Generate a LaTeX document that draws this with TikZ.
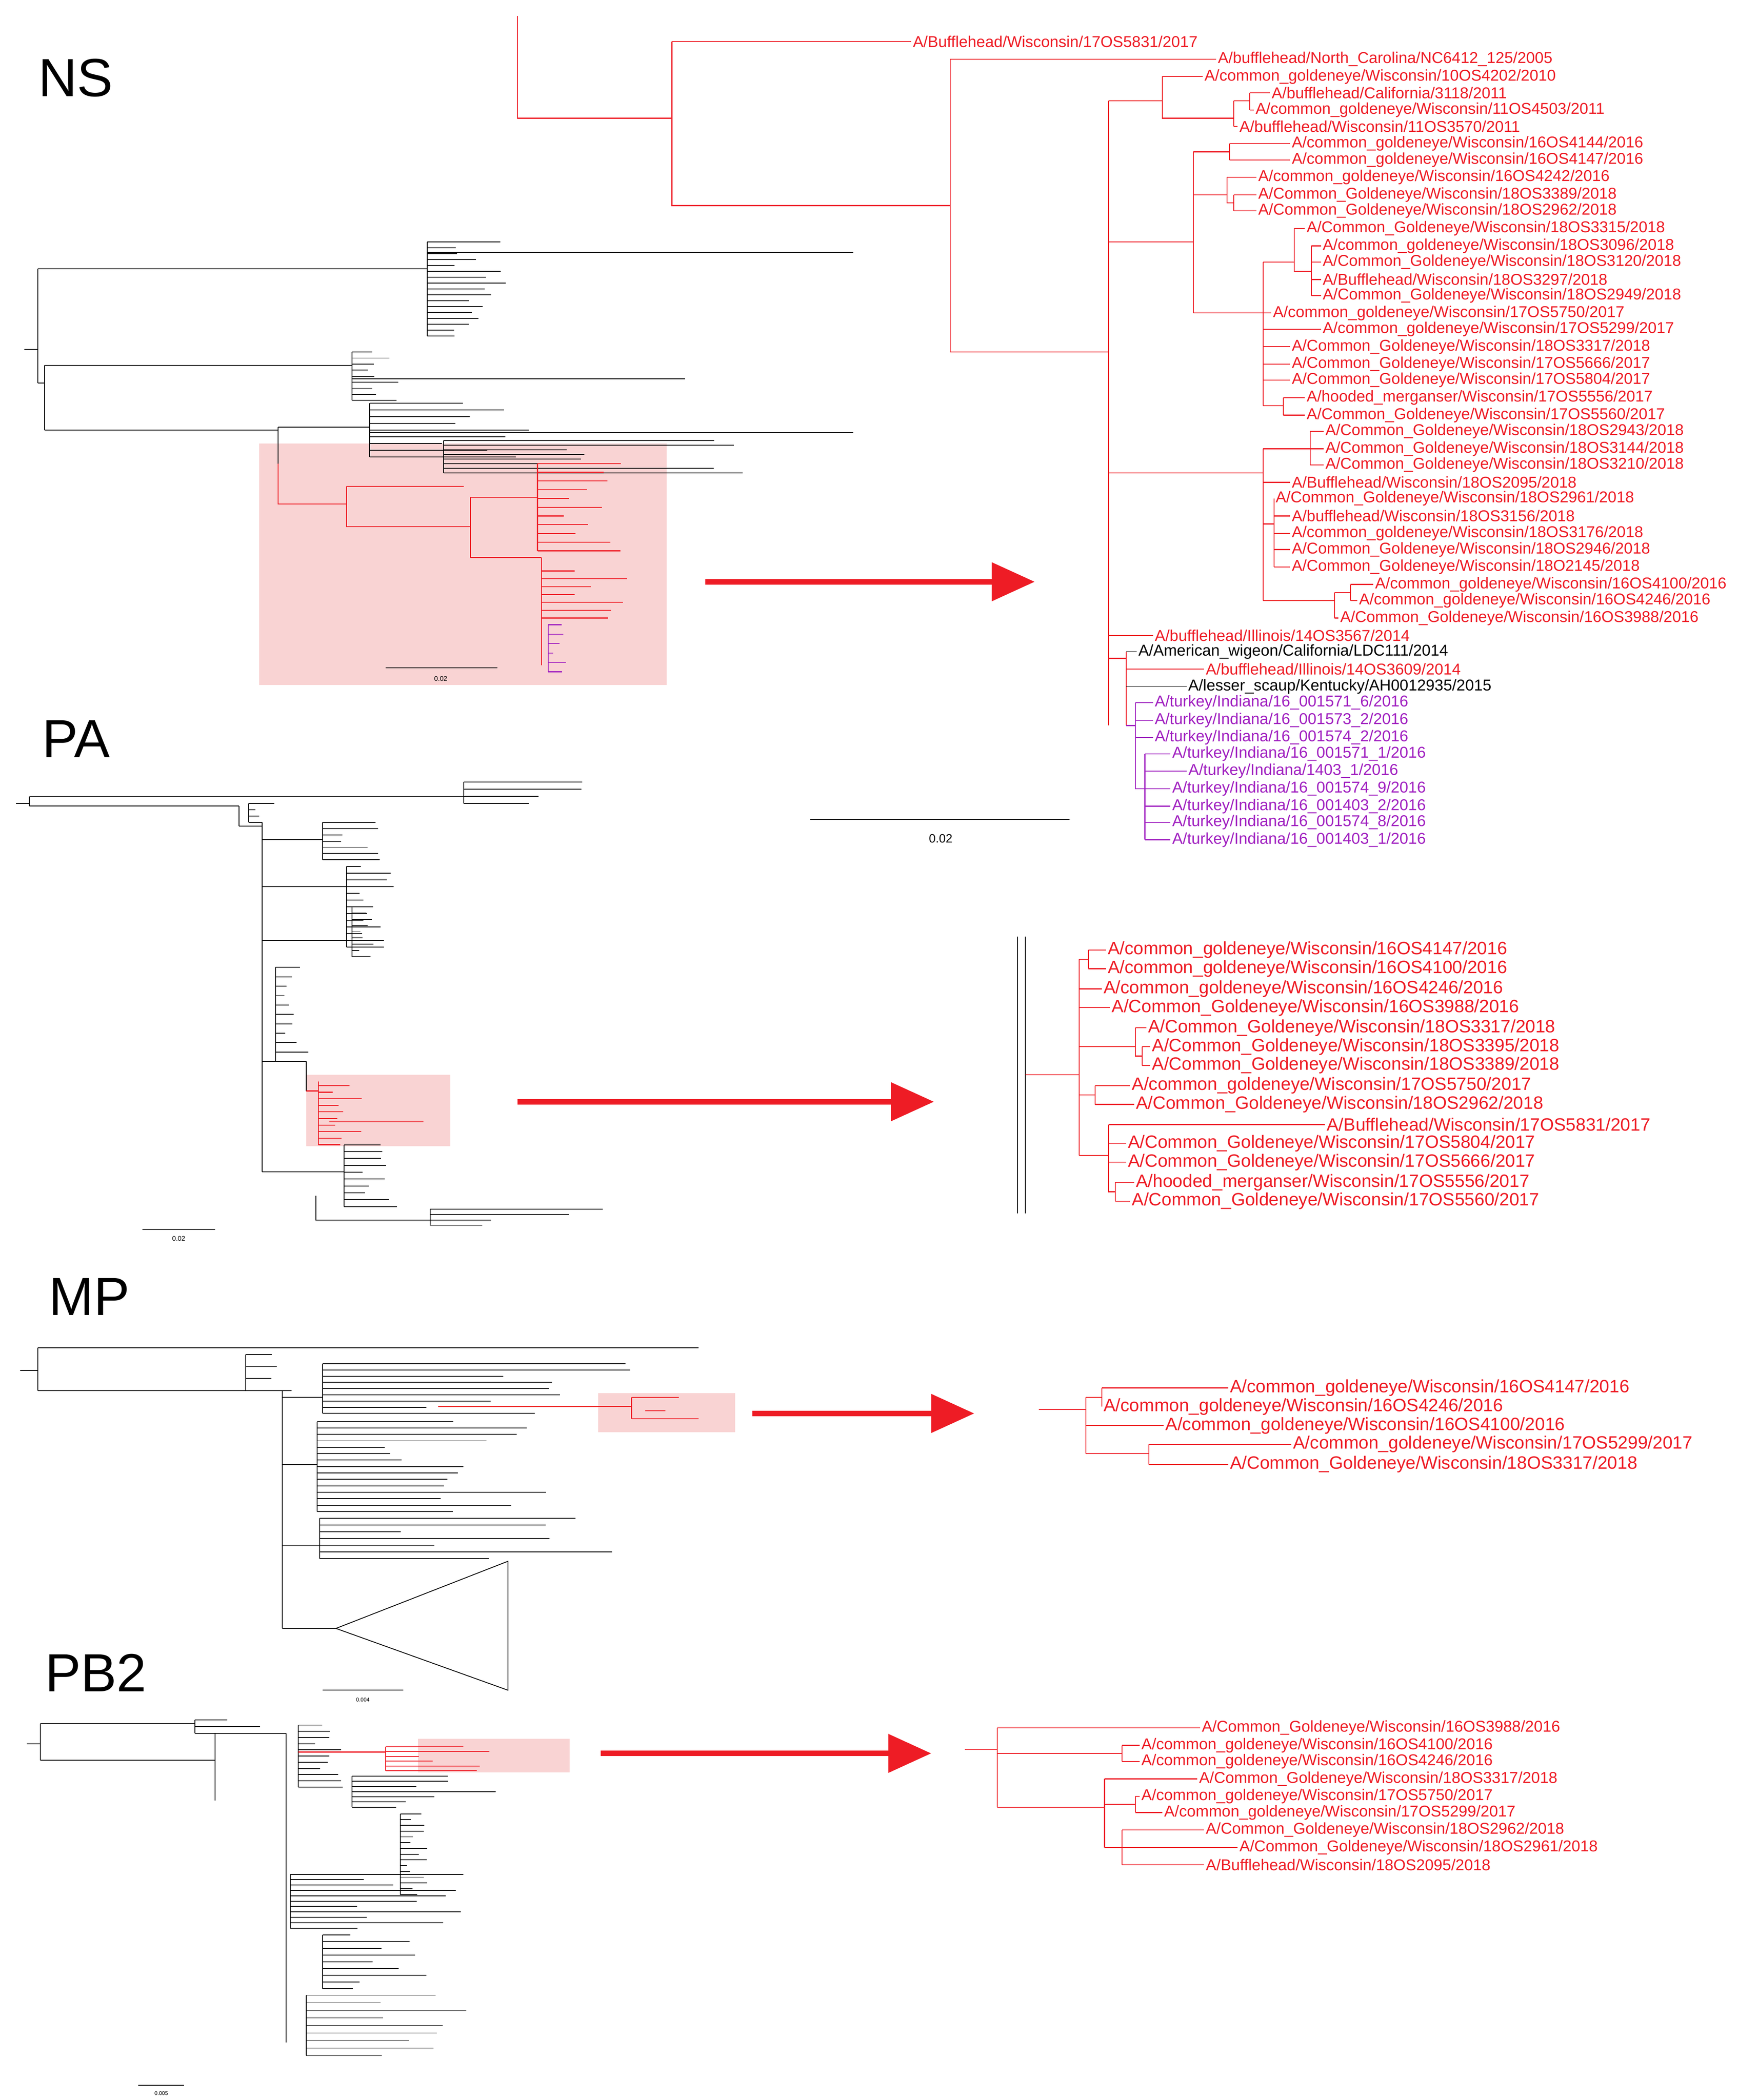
\documentclass[tikz,border=0pt]{standalone}
\usepackage{fontspec}
\setmainfont{Liberation Sans}
\usetikzlibrary{arrows.meta}
\definecolor{rd}{HTML}{EE1C25}
\definecolor{pu}{HTML}{A020C0}
\definecolor{pk}{HTML}{F9D3D3}
\tikzset{rd/.style={draw=rd,line width=0.7pt},bk/.style={draw=black,line width=0.6pt},pu/.style={draw=pu,line width=0.7pt},
 bigarrow/.style={draw=rd,line width=4pt,-{Triangle[length=32pt,width=28pt]}},
 hdr/.style={font=\fontsize{40}{40}\selectfont,anchor=west}}
\newcommand\lf[6][11.7]{\draw[#6] (#2,-#3) -- (#4,-#3) node[right,inner sep=1pt,font=\fontsize{#1}{#1}\selectfont,text=#6]{#5};}
\newcommand\comb[6]{\draw[#6] (#1,-#2) -- (#1,-#3);
 \foreach \i in {0,...,#4} {\pgfmathsetmacro\yy{#2+(#3-#2)*\i/#4}\pgfmathsetmacro\ll{#5*(0.25+0.75*rnd)}\draw[#6] (#1,-\yy) -- ++(\ll,0);}}
\begin{document}
\begin{tikzpicture}[x=1pt,y=1pt]
\pgfmathsetseed{7}
\useasboundingbox (0,0) rectangle (1308,-1563);
% headers
\node[hdr] (hNS) at (25,-58) {NS};
\node[hdr] (hPA) at (28,-550) {PA};
\node[hdr] (hMP) at (33,-965) {MP};
\node[hdr] (hPB) at (30,-1245) {PB2};
% pink boxes
\fill[pk] (193,-330) rectangle (496,-510);
\fill[pk] (228,-800) rectangle (335,-853);
\fill[pk] (445,-1037) rectangle (547,-1066);
\fill[pk] (311,-1294) rectangle (424,-1319);
% arrows
\coordinate (a1) at (525,-433); \coordinate (a2) at (770,-433);
\draw[bigarrow] (a1) -- (a2);
\coordinate (b1) at (385,-820); \coordinate (b2) at (695,-820);
\draw[bigarrow] (b1) -- (b2);
\coordinate (c1) at (560,-1052); \coordinate (c2) at (725,-1052);
\draw[bigarrow] (c1) -- (c2);
\coordinate (d1) at (447,-1305); \coordinate (d2) at (693,-1305);
\draw[bigarrow] (d1) -- (d2);

% ===== NS overview
\draw[bk] (18,-260)--(28,-260) (28,-200)--(28,-285) (28,-200)--(318,-200);
\comb{318}{180}{250}{16}{60}{bk}
\draw[bk] (318,-188)--(635,-188);
\draw[bk] (28,-285)--(33,-285) (33,-272)--(33,-320) (33,-272)--(262,-272);
\comb{262}{262}{298}{8}{40}{bk}
\draw[bk] (262,-282)--(510,-282);
\draw[bk] (33,-320)--(207,-320) (207,-318)--(207,-345) (207,-318)--(275,-318);
\comb{275}{300}{340}{8}{120}{bk}
\draw[bk] (275,-322)--(635,-322) (275,-310)--(300,-310);
\comb{330}{328}{352}{7}{230}{bk}
\draw[rd] (207,-345)--(207,-375)--(258,-375) (258,-362)--(258,-392)--(350,-392) (258,-362)--(345,-362);
\draw[rd] (350,-370)--(350,-415) (350,-370)--(400,-370);
\comb{400}{345}{410}{10}{65}{rd}
\draw[rd] (350,-415)--(403,-415) (403,-415)--(403,-495);
\comb{403}{425}{460}{6}{65}{rd}
\comb{408}{465}{500}{5}{14}{pu}
\draw[bk] (287,-497)--(370,-497);
\node[font=\fontsize{5}{5}\selectfont] (sb1) at (328,-505) {0.02};

% ===== NS detail
\draw[rd] (385,-12)--(385,-88)--(500,-88) (500,-31)--(500,-153)--(707,-153) (707,-44)--(707,-262)--(825,-262) (825,-75)--(825,-540);
\lf{500}{31}{678}{A/Bufflehead/Wisconsin/17OS5831/2017}{rd}
\lf{707}{44}{905}{A/bufflehead/North\_Carolina/NC6412\_125/2005}{rd}
\draw[rd] (825,-75)--(865,-75) (865,-57)--(865,-88)--(918,-88) (918,-75)--(918,-94) (918,-75)--(930,-75) (930,-69)--(930,-82);
\lf{865}{57}{895}{A/common\_goldeneye/Wisconsin/10OS4202/2010}{rd}
\lf{930}{69}{945}{A/bufflehead/California/3118/2011}{rd}
\lf{930}{82}{933}{A/common\_goldeneye/Wisconsin/11OS4503/2011}{rd}
\lf{918}{94}{921}{A/bufflehead/Wisconsin/11OS3570/2011}{rd}
\draw[rd] (825,-180)--(888,-180) (888,-113)--(888,-233) (888,-113)--(915,-113) (915,-107)--(915,-119) (888,-145)--(913,-145) (913,-132)--(913,-151)--(918,-151) (918,-145)--(918,-157);
\lf{915}{107}{960}{A/common\_goldeneye/Wisconsin/16OS4144/2016}{rd}
\lf{915}{119}{960}{A/common\_goldeneye/Wisconsin/16OS4147/2016}{rd}
\lf{913}{132}{935}{A/common\_goldeneye/Wisconsin/16OS4242/2016}{rd}
\lf{918}{145}{935}{A/Common\_Goldeneye/Wisconsin/18OS3389/2018}{rd}
\lf{918}{157}{935}{A/Common\_Goldeneye/Wisconsin/18OS2962/2018}{rd}
\draw[rd] (888,-233)--(940,-233) (940,-195)--(940,-302) (940,-195)--(963,-195) (963,-170)--(963,-202)--(976,-202) (976,-183)--(976,-220) (940,-302)--(955,-302) (955,-296)--(955,-309);
\lf{963}{170}{971}{A/Common\_Goldeneye/Wisconsin/18OS3315/2018}{rd}
\lf{976}{183}{983}{A/common\_goldeneye/Wisconsin/18OS3096/2018}{rd}
\lf{976}{195}{983}{A/Common\_Goldeneye/Wisconsin/18OS3120/2018}{rd}
\lf{976}{208}{983}{A/Bufflehead/Wisconsin/18OS3297/2018}{rd}
\lf{976}{220}{983}{A/Common\_Goldeneye/Wisconsin/18OS2949/2018}{rd}
\lf{940}{233}{946}{A/common\_goldeneye/Wisconsin/17OS5750/2017}{rd}
\lf{940}{245}{983}{A/common\_goldeneye/Wisconsin/17OS5299/2017}{rd}
\lf{940}{258}{960}{A/Common\_Goldeneye/Wisconsin/18OS3317/2018}{rd}
\lf{940}{271}{960}{A/Common\_Goldeneye/Wisconsin/17OS5666/2017}{rd}
\lf{940}{283}{960}{A/Common\_Goldeneye/Wisconsin/17OS5804/2017}{rd}
\lf{955}{296}{971}{A/hooded\_merganser/Wisconsin/17OS5556/2017}{rd}
\lf{955}{309}{971}{A/Common\_Goldeneye/Wisconsin/17OS5560/2017}{rd}
\draw[rd] (825,-352)--(940,-352) (940,-334)--(940,-447) (940,-334)--(975,-334) (975,-321)--(975,-346) (940,-390)--(948,-390) (948,-371)--(948,-422) (940,-447)--(993,-447) (993,-441)--(993,-460) (993,-441)--(1005,-441) (1005,-435)--(1005,-447);
\lf{975}{321}{985}{A/Common\_Goldeneye/Wisconsin/18OS2943/2018}{rd}
\lf{975}{334}{985}{A/Common\_Goldeneye/Wisconsin/18OS3144/2018}{rd}
\lf{975}{346}{985}{A/Common\_Goldeneye/Wisconsin/18OS3210/2018}{rd}
\lf{940}{359}{960}{A/Bufflehead/Wisconsin/18OS2095/2018}{rd}
\lf{948}{371}{948}{A/Common\_Goldeneye/Wisconsin/18OS2961/2018}{rd}
\lf{948}{384}{960}{A/bufflehead/Wisconsin/18OS3156/2018}{rd}
\lf{948}{397}{960}{A/common\_goldeneye/Wisconsin/18OS3176/2018}{rd}
\lf{948}{409}{960}{A/Common\_Goldeneye/Wisconsin/18OS2946/2018}{rd}
\lf{948}{422}{960}{A/Common\_Goldeneye/Wisconsin/18O2145/2018}{rd}
\lf{1005}{435}{1022}{A/common\_goldeneye/Wisconsin/16OS4100/2016}{rd}
\lf{1005}{447}{1010}{A/common\_goldeneye/Wisconsin/16OS4246/2016}{rd}
\lf{993}{460}{996}{A/Common\_Goldeneye/Wisconsin/16OS3988/2016}{rd}
\lf{825}{473}{858}{A/bufflehead/Illinois/14OS3567/2014}{rd}
\draw[rd] (825,-490)--(838,-490) (838,-485)--(838,-540);
\lf{838}{485}{846}{A/American\_wigeon/California/LDC111/2014}{black}
\lf{838}{498}{896}{A/bufflehead/Illinois/14OS3609/2014}{rd}
\lf{838}{511}{883}{A/lesser\_scaup/Kentucky/AH0012935/2015}{black}
\draw[pu] (838,-540)--(845,-540) (845,-523)--(845,-587)--(852,-587) (852,-561)--(852,-625);
\lf{845}{523}{858}{A/turkey/Indiana/16\_001571\_6/2016}{pu}
\lf{845}{536}{858}{A/turkey/Indiana/16\_001573\_2/2016}{pu}
\lf{845}{549}{858}{A/turkey/Indiana/16\_001574\_2/2016}{pu}
\lf{852}{561}{871}{A/turkey/Indiana/16\_001571\_1/2016}{pu}
\lf{852}{574}{883}{A/turkey/Indiana/1403\_1/2016}{pu}
\lf{852}{587}{871}{A/turkey/Indiana/16\_001574\_9/2016}{pu}
\lf{852}{600}{871}{A/turkey/Indiana/16\_001403\_2/2016}{pu}
\lf{852}{612}{871}{A/turkey/Indiana/16\_001574\_8/2016}{pu}
\lf{852}{625}{871}{A/turkey/Indiana/16\_001403\_1/2016}{pu}
\draw[bk] (603,-610)--(796,-610);
\node[font=\fontsize{9}{9}\selectfont] (sb2) at (700,-624) {0.02};

% ===== PA overview
\draw[bk] (12,-598)--(22,-598) (22,-593)--(22,-600) (22,-593)--(345,-593) (22,-600)--(178,-600);
\comb{345}{582}{598}{3}{95}{bk}
\draw[bk] (178,-600)--(178,-615) (178,-615)--(195,-615) (195,-612)--(195,-872);
\comb{185}{598}{612}{3}{20}{bk}
\draw[bk] (195,-625)--(240,-625); \comb{240}{612}{640}{6}{50}{bk}
\draw[bk] (195,-660)--(258,-660); \comb{258}{645}{705}{12}{35}{bk}
\draw[bk] (195,-700)--(262,-700); \comb{262}{675}{712}{8}{18}{bk}
\comb{205}{720}{790}{10}{25}{bk}
\draw[bk] (195,-790)--(228,-790) (228,-790)--(228,-812);
\draw[rd] (228,-812)--(237,-812) (237,-805)--(237,-850);
\comb{237}{808}{852}{9}{35}{rd}
\draw[rd] (245,-835)--(315,-835);
\draw[bk] (195,-872)--(256,-872); \comb{256}{852}{898}{9}{45}{bk}
\draw[bk] (235,-890)--(235,-908)--(320,-908); \comb{320}{900}{912}{3}{140}{bk}
\draw[bk] (106,-915)--(160,-915);
\node[font=\fontsize{5}{5}\selectfont] (sb3) at (133,-922) {0.02};

% ===== PA detail
\draw[bk] (757,-697)--(757,-903) (763,-697)--(763,-903);
\draw[rd] (763,-800)--(803,-800) (803,-714)--(803,-860);
\draw[rd] (803,-714)--(810,-714) (810,-707)--(810,-721) (803,-779)--(845,-779) (845,-765)--(845,-786)--(850,-786) (850,-779)--(850,-793) (803,-815)--(815,-815) (815,-808)--(815,-822) (803,-860)--(825,-860) (825,-837)--(825,-887)--(830,-887) (830,-880)--(830,-894);
\lf[13.3]{810}{707}{823}{A/common\_goldeneye/Wisconsin/16OS4147/2016}{rd}
\lf[13.3]{810}{721}{823}{A/common\_goldeneye/Wisconsin/16OS4100/2016}{rd}
\lf[13.3]{803}{736}{820}{A/common\_goldeneye/Wisconsin/16OS4246/2016}{rd}
\lf[13.3]{803}{750}{826}{A/Common\_Goldeneye/Wisconsin/16OS3988/2016}{rd}
\lf[13.3]{845}{765}{853}{A/Common\_Goldeneye/Wisconsin/18OS3317/2018}{rd}
\lf[13.3]{850}{779}{856}{A/Common\_Goldeneye/Wisconsin/18OS3395/2018}{rd}
\lf[13.3]{850}{793}{856}{A/Common\_Goldeneye/Wisconsin/18OS3389/2018}{rd}
\lf[13.3]{815}{808}{841}{A/common\_goldeneye/Wisconsin/17OS5750/2017}{rd}
\lf[13.3]{815}{822}{844}{A/Common\_Goldeneye/Wisconsin/18OS2962/2018}{rd}
\lf[13.3]{825}{837}{986}{A/Bufflehead/Wisconsin/17OS5831/2017}{rd}
\lf[13.3]{825}{851}{838}{A/Common\_Goldeneye/Wisconsin/17OS5804/2017}{rd}
\lf[13.3]{825}{865}{838}{A/Common\_Goldeneye/Wisconsin/17OS5666/2017}{rd}
\lf[13.3]{830}{880}{844}{A/hooded\_merganser/Wisconsin/17OS5556/2017}{rd}
\lf[13.3]{830}{894}{841}{A/Common\_Goldeneye/Wisconsin/17OS5560/2017}{rd}

% ===== MP overview
\draw[bk] (15,-1020)--(28,-1020) (28,-1003)--(28,-1035) (28,-1003)--(520,-1003) (28,-1035)--(183,-1035);
\comb{183}{1008}{1035}{3}{40}{bk}
\draw[bk] (183,-1035)--(210,-1035) (210,-1035)--(210,-1212);
\draw[bk] (210,-1040)--(240,-1040); \comb{240}{1015}{1052}{8}{250}{bk}
\draw[rd] (326,-1047)--(470,-1047) (470,-1040)--(470,-1056); \draw[rd] (470,-1040)--(505,-1040) (470,-1056)--(520,-1056) (480,-1050)--(495,-1050);
\draw[bk] (210,-1090)--(236,-1090); \comb{236}{1058}{1125}{14}{190}{bk}
\draw[bk] (210,-1150)--(238,-1150); \comb{238}{1130}{1160}{6}{230}{bk}
\draw[bk] (210,-1212)--(250,-1212) (250,-1212)--(378,-1162)--(378,-1258)--cycle;
\draw[bk] (240,-1258)--(300,-1258);
\node[font=\fontsize{4}{4}\selectfont] (sb4) at (270,-1265) {0.004};

% ===== MP detail
\draw[rd] (773,-1049)--(808,-1049) (808,-1040)--(808,-1082) (808,-1040)--(820,-1040) (820,-1033)--(820,-1047) (808,-1082)--(855,-1082) (855,-1075)--(855,-1090);
\lf[13.3]{820}{1033}{914}{A/common\_goldeneye/Wisconsin/16OS4147/2016}{rd}
\lf[13.3]{820}{1047}{820}{A/common\_goldeneye/Wisconsin/16OS4246/2016}{rd}
\lf[13.3]{808}{1061}{866}{A/common\_goldeneye/Wisconsin/16OS4100/2016}{rd}
\lf[13.3]{855}{1075}{961}{A/common\_goldeneye/Wisconsin/17OS5299/2017}{rd}
\lf[13.3]{855}{1090}{914}{A/Common\_Goldeneye/Wisconsin/18OS3317/2018}{rd}

% ===== PB2 overview
\draw[bk] (20,-1298)--(30,-1298) (30,-1283)--(30,-1310) (30,-1283)--(145,-1283) (30,-1310)--(160,-1310);
\comb{145}{1280}{1290}{2}{50}{bk}
\draw[bk] (160,-1290)--(160,-1340) (160,-1290)--(213,-1290) (213,-1290)--(213,-1520);
\comb{222}{1284}{1330}{10}{40}{bk}
\draw[rd] (222,-1304)--(287,-1304) (287,-1302)--(287,-1318);
\comb{287}{1300}{1318}{5}{80}{rd}
\comb{262}{1322}{1345}{6}{120}{bk}
\comb{298}{1350}{1410}{14}{20}{bk}
\comb{216}{1395}{1435}{10}{130}{bk}
\comb{240}{1440}{1480}{8}{80}{bk}
\comb{228}{1485}{1530}{8}{130}{bk}
\draw[bk] (103,-1552)--(137,-1552);
\node[font=\fontsize{4}{4}\selectfont] (sb5) at (120,-1558) {0.005};

% ===== PB2 detail
\draw[rd] (718,-1302)--(742,-1302) (742,-1286)--(742,-1345) (742,-1305)--(835,-1305) (835,-1299)--(835,-1311) (742,-1345)--(822,-1345) (822,-1324)--(822,-1375) (822,-1343)--(845,-1343) (845,-1337)--(845,-1349) (822,-1375)--(835,-1375) (835,-1362)--(835,-1388);
\lf{742}{1286}{893}{A/Common\_Goldeneye/Wisconsin/16OS3988/2016}{rd}
\lf{835}{1299}{848}{A/common\_goldeneye/Wisconsin/16OS4100/2016}{rd}
\lf{835}{1311}{848}{A/common\_goldeneye/Wisconsin/16OS4246/2016}{rd}
\lf{822}{1324}{891}{A/Common\_Goldeneye/Wisconsin/18OS3317/2018}{rd}
\lf{845}{1337}{848}{A/common\_goldeneye/Wisconsin/17OS5750/2017}{rd}
\lf{845}{1349}{865}{A/common\_goldeneye/Wisconsin/17OS5299/2017}{rd}
\lf{835}{1362}{896}{A/Common\_Goldeneye/Wisconsin/18OS2962/2018}{rd}
\lf{835}{1375}{921}{A/Common\_Goldeneye/Wisconsin/18OS2961/2018}{rd}
\lf{835}{1388}{896}{A/Bufflehead/Wisconsin/18OS2095/2018}{rd}
\end{tikzpicture}
\end{document}
